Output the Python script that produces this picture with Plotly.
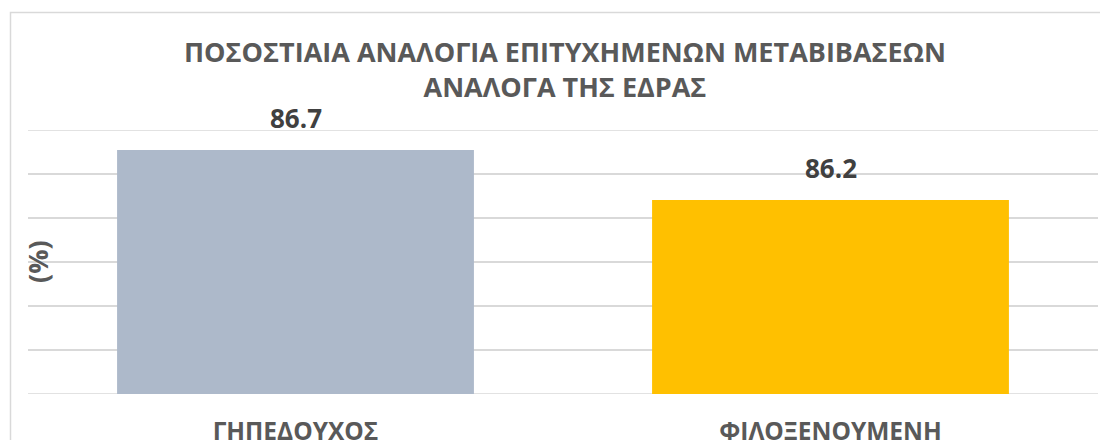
import plotly.graph_objects as go

categories = ["ΓΗΠΕΔΟΥΧΟΣ", "ΦΙΛΟΞΕΝΟΥΜΕΝΗ"]
values = [86.7, 86.2]
bar_colors = ["#ADB9CA", "#FFC000"]
title_text = "ΠΟΣΟΣΤΙΑΙΑ ΑΝΑΛΟΓΙΑ ΕΠΙΤΥΧΗΜΕΝΩΝ ΜΕΤΑΒΙΒΑΣΕΩΝ<br>ΑΝΑΛΟΓΑ ΤΗΣ ΕΔΡΑΣ"
y_title = "(%)"

FONT = "Open Sans"
Y_MIN, Y_MAX, Y_STEP = 84.26, 86.9, 0.44

# the page body has an 8px margin, so the figure is sized/placed to compensate
W, H = 1100, 432
L, R, T, B = 20, 10, 122, 46
PW, PH = W - L - R, H - T - B


def px_x(x):
    return (x - 8 - L) / PW


def px_y(y):
    return (H - B - (y - 8)) / PH


fig = go.Figure()
fig.add_trace(go.Bar(
    x=categories,
    y=values,
    marker=dict(color=bar_colors, line=dict(width=0)),
    hoverinfo="skip",
))

for c, v in zip(categories, values):
    fig.add_annotation(
        x=c, y=v, text=f"<b>{v:.1f}</b>", showarrow=False,
        yanchor="bottom", yshift=12,
        font=dict(family=FONT, size=26, color="#404040"),
    )

# title
fig.add_annotation(
    xref="paper", yref="paper", x=px_x(565), y=px_y(69),
    xanchor="center", yanchor="middle", showarrow=False,
    text=f"<b>{title_text}</b>",
    font=dict(family=FONT, size=27, color="#595959"),
)
# y axis title
fig.add_annotation(
    xref="paper", yref="paper", x=px_x(37), y=px_y(262),
    xanchor="center", yanchor="middle", showarrow=False, textangle=-90,
    text=f"<b>{y_title}</b>",
    font=dict(family=FONT, size=27, color="#595959"),
)

fig.update_layout(
    width=W, height=H,
    margin=dict(l=L, r=R, t=T, b=B),
    paper_bgcolor="white", plot_bgcolor="white",
    showlegend=False,
    bargap=0.333,
    xaxis=dict(
        automargin=False,
        showgrid=False, showline=False, zeroline=False,
        ticks="", ticklabelstandoff=20,
        tickfont=dict(family=FONT, size=24.5, color="#595959"),
        tickprefix="<b>", ticksuffix="</b>",
    ),
    yaxis=dict(
        automargin=False,
        range=[Y_MIN, Y_MAX], tick0=Y_MIN, dtick=Y_STEP,
        showticklabels=False, ticks="",
        showgrid=True, gridcolor="#D9D9D9", gridwidth=1.5,
        zeroline=False, showline=False,
    ),
)

# edge gridlines at axis minimum and maximum
for yv in (Y_MIN, Y_MAX):
    fig.add_shape(type="line", xref="paper", yref="y", x0=0, x1=1, y0=yv, y1=yv,
                  line=dict(color="#D9D9D9", width=1.5), layer="below")
# chart-area frame (extends beyond the visible window on the right and bottom)
fig.add_shape(type="rect", xref="paper", yref="paper",
              x0=px_x(10.5), x1=1.2, y0=-0.5, y1=px_y(12.5),
              line=dict(color="#D9D9D9", width=1.5), fillcolor="rgba(0,0,0,0)")

fig.write_html("out.html")
